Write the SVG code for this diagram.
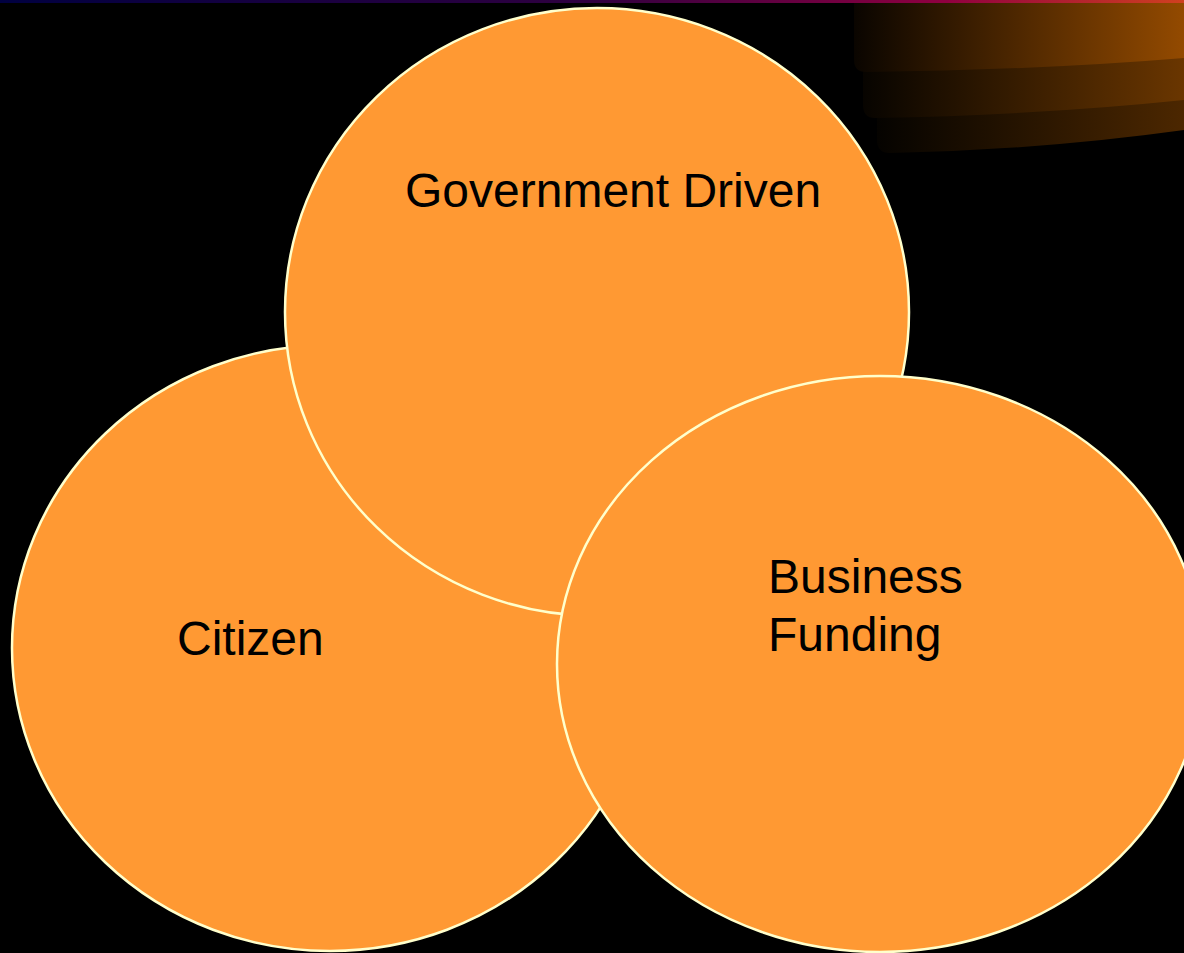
<svg xmlns="http://www.w3.org/2000/svg" width="1184" height="953" viewBox="0 0 1184 953">
  <defs>
    <linearGradient id="topline" x1="0" y1="0" x2="1184" y2="0" gradientUnits="userSpaceOnUse">
      <stop offset="0" stop-color="#000040"/>
      <stop offset="0.5" stop-color="#300040"/>
      <stop offset="0.8" stop-color="#900040"/>
      <stop offset="1" stop-color="#d04020"/>
    </linearGradient>
    <linearGradient id="b1" x1="854" y1="0" x2="1184" y2="0" gradientUnits="userSpaceOnUse">
      <stop offset="0" stop-color="#0a0500"/>
      <stop offset="1" stop-color="#934a00"/>
    </linearGradient>
    <linearGradient id="b2" x1="863" y1="0" x2="1184" y2="0" gradientUnits="userSpaceOnUse">
      <stop offset="0" stop-color="#070400"/>
      <stop offset="1" stop-color="#6a3600"/>
    </linearGradient>
    <linearGradient id="b3" x1="877" y1="0" x2="1184" y2="0" gradientUnits="userSpaceOnUse">
      <stop offset="0" stop-color="#050300"/>
      <stop offset="1" stop-color="#4c2700"/>
    </linearGradient>
    <style>
      .circle { fill: #FF9933; stroke: #FFFFCC; stroke-width: 2.5; }
      .label { font-family: "Liberation Sans", Arial, sans-serif; font-size: 48px; fill: #000000; }
    </style>
  </defs>
  <rect x="0" y="0" width="1184" height="953" fill="#000000"/>
  <g id="decoration">
    <path d="M 877,0 H 1184 V 130 Q 1040,150 890,153 Q 877,153 877,140 Z" fill="url(#b3)"/>
    <path d="M 863,0 H 1184 V 100 Q 1040,115 875,118 Q 863,118 863,105 Z" fill="url(#b2)"/>
    <path d="M 854,0 H 1184 V 58 Q 1040,70 866,72 Q 854,72 854,60 Z" fill="url(#b1)"/>
    <rect x="0" y="0" width="1184" height="3" fill="url(#topline)"/>
  </g>
  <g id="citizen">
    <ellipse class="circle" cx="330" cy="648" rx="318" ry="303"/>
    <text class="label" x="177" y="655">Citizen</text>
  </g>
  <g id="government">
    <ellipse class="circle" cx="597" cy="312" rx="312" ry="304"/>
    <text class="label" x="405" y="207">Government Driven</text>
  </g>
  <g id="business">
    <ellipse class="circle" cx="880" cy="664" rx="323" ry="288"/>
    <text class="label" x="768" y="593">Business</text>
    <text class="label" x="768" y="651">Funding</text>
  </g>
  <g id="connectors"/>
</svg>
